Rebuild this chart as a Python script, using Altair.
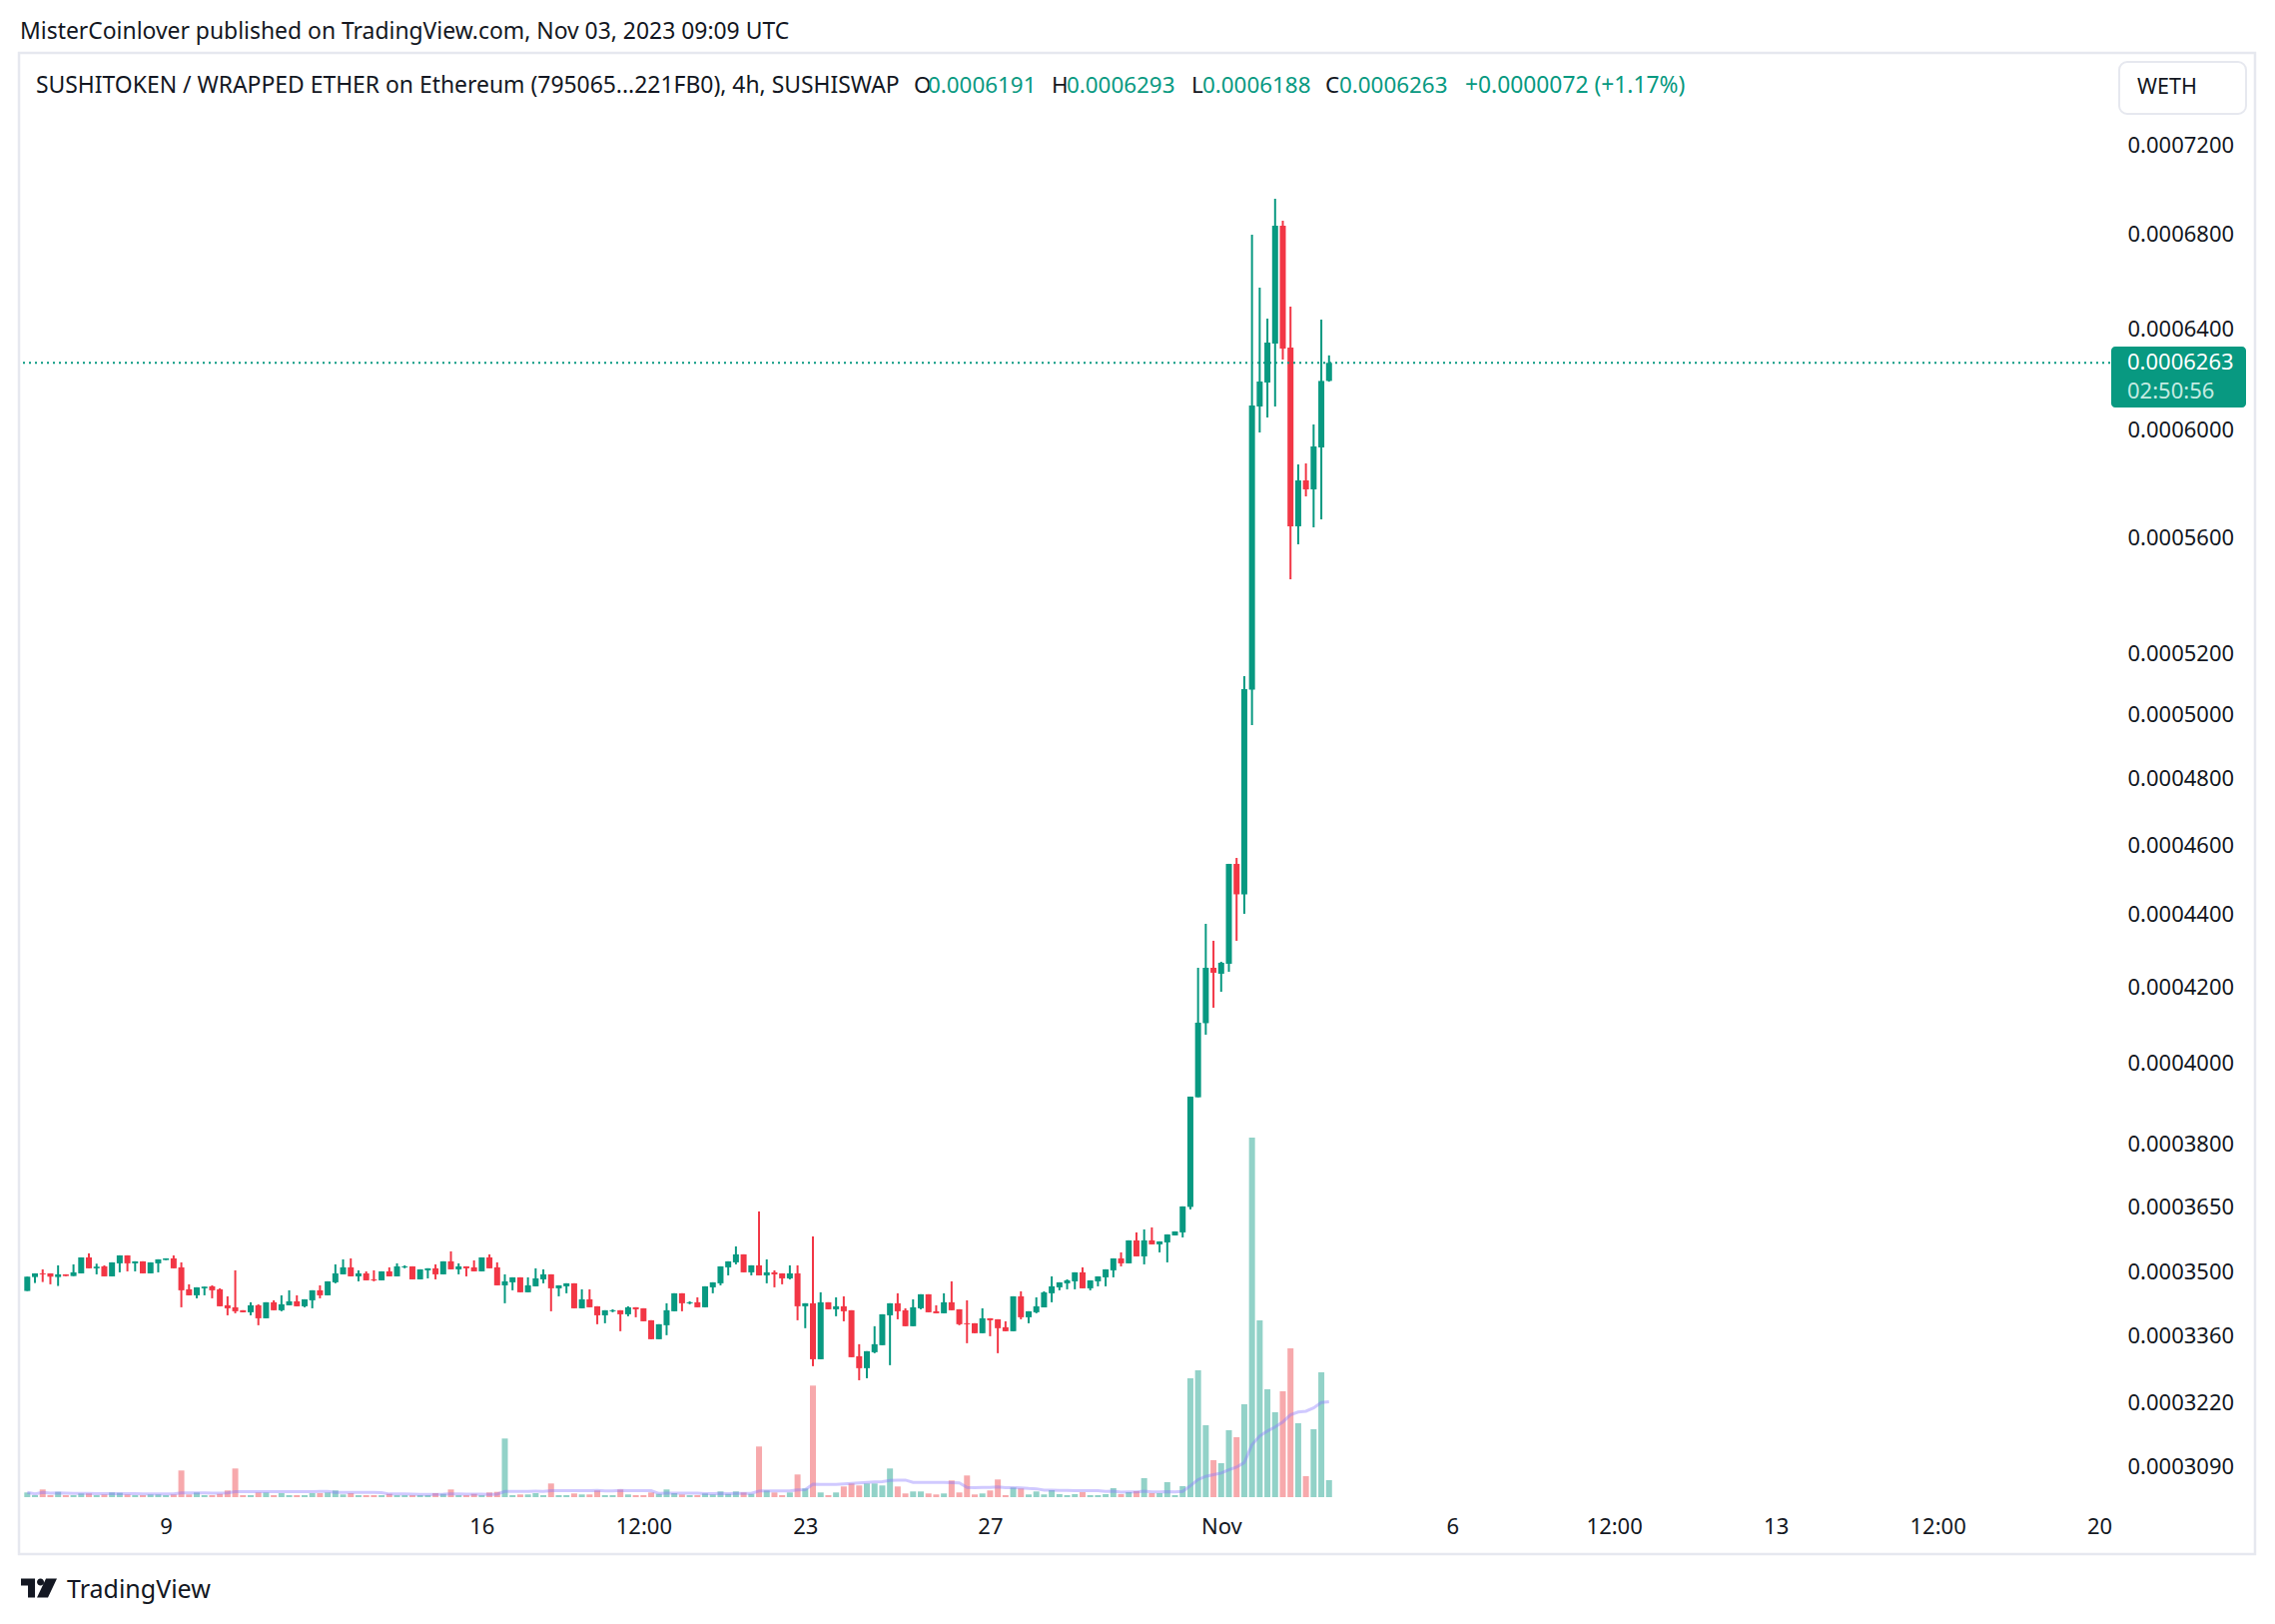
import altair as alt
import pandas as pd

# ---------------- data (prices in units of 1e-4 WETH, 4h bars) ----------------
open_e4 = [
    3.4585, 3.4895, 3.4977, 3.4977, 3.4895, 3.4955, 3.4917, 3.4977, 3.5336, 3.5090,
    3.5134, 3.4910, 3.5202, 3.5382, 3.5202, 3.5247, 3.4977, 3.5202, 3.5277, 3.5314,
    3.5112, 3.4622, 3.4489, 3.4644, 3.4688, 3.4622, 3.4270, 3.4226, 3.4161, 3.4117,
    3.4270, 3.3986, 3.4336, 3.4161, 3.4270, 3.4357, 3.4248, 3.4379, 3.4600, 3.4489,
    3.4777, 3.4955, 3.5112, 3.4910, 3.4977, 3.4843, 3.4821, 3.5022, 3.4910, 3.5112,
    3.5134, 3.4843, 3.5045, 3.5090, 3.4955, 3.5247, 3.5067, 3.5134, 3.5112, 3.5022,
    3.5336, 3.5112, 3.4710, 3.4777, 3.4888, 3.4556, 3.4688, 3.4843, 3.4955, 3.4644,
    3.4688, 3.4755, 3.4204, 3.4401, 3.4248, 3.4051, 3.4139, 3.4161, 3.4073, 3.4226,
    3.4204, 3.3943, 3.3534, 3.3835, 3.4139, 3.4534, 3.4314, 3.4336, 3.4226, 3.4666,
    3.4755, 3.5112, 3.5224, 3.5405, 3.5000, 3.5157, 3.4932, 3.5000, 3.4977, 3.4865,
    3.4977, 3.4248, 3.4314, 3.3107, 3.4336, 3.4182, 3.4248, 3.4161, 3.3171, 3.2918,
    3.3256, 3.3406, 3.4051, 3.4314, 3.4161, 3.3814, 3.4204, 3.4512, 3.4139, 3.4095,
    3.4336, 3.4182, 3.3878, 3.3878, 3.3663, 3.3986, 3.3964, 3.3792, 3.3706, 3.4467,
    3.4008, 3.4117, 3.4226, 3.4534, 3.4666, 3.4755, 3.4799, 3.5000, 3.4644, 3.4799,
    3.4888, 3.5045, 3.5314, 3.5202, 3.5723, 3.5359, 3.5723, 3.5632, 3.5677, 3.5837,
    3.5906, 3.6496, 3.9148, 4.1049, 4.2530, 4.2368, 4.2639, 4.5453, 4.4576, 5.0811,
    6.0905, 6.1846, 6.3407, 6.8372, 6.3245, 5.6411, 5.8093, 5.7760, 5.9331, 6.1910,
]
high_e4 = [
    3.4903, 3.4977, 3.5067, 3.4977, 3.5157, 3.4955, 3.5179, 3.5336, 3.5428, 3.5194,
    3.5157, 3.5224, 3.5382, 3.5382, 3.5247, 3.5247, 3.5224, 3.5292, 3.5314, 3.5382,
    3.5224, 3.4733, 3.4666, 3.4681, 3.4710, 3.4644, 3.4467, 3.5045, 3.4161, 3.4336,
    3.4292, 3.4336, 3.4379, 3.4489, 3.4600, 3.4489, 3.4401, 3.4600, 3.4710, 3.4799,
    3.5179, 3.5292, 3.5314, 3.5045, 3.5022, 3.5045, 3.5022, 3.5112, 3.5202, 3.5157,
    3.5134, 3.5067, 3.5090, 3.5179, 3.5247, 3.5473, 3.5202, 3.5134, 3.5269, 3.5336,
    3.5405, 3.5224, 3.4955, 3.4888, 3.4888, 3.4888, 3.5090, 3.5067, 3.4955, 3.4710,
    3.4755, 3.4755, 3.4622, 3.4622, 3.4248, 3.4161, 3.4182, 3.4161, 3.4248, 3.4226,
    3.4204, 3.3943, 3.3857, 3.4314, 3.4534, 3.4534, 3.4357, 3.4445, 3.4688, 3.4777,
    3.5134, 3.5247, 3.5586, 3.5405, 3.5157, 3.6391, 3.5292, 3.5045, 3.4977, 3.5157,
    3.5157, 3.4314, 3.5814, 3.4556, 3.4336, 3.4445, 3.4467, 3.4161, 3.3427, 3.3278,
    3.3814, 3.4073, 3.4314, 3.4534, 3.4204, 3.4401, 3.4512, 3.4512, 3.4270, 3.4534,
    3.4799, 3.4182, 3.4379, 3.3878, 3.4204, 3.3986, 3.3964, 3.3921, 3.4467, 3.4578,
    3.4139, 3.4445, 3.4578, 3.4910, 3.4777, 3.4843, 3.5000, 3.5112, 3.4821, 3.4910,
    3.5067, 3.5314, 3.5450, 3.5723, 3.5906, 3.5975, 3.6021, 3.5700, 3.5860, 3.5929,
    3.6508, 3.9165, 4.2530, 4.3743, 4.3271, 4.2694, 4.5453, 4.5627, 5.1255, 6.7980,
    6.5717, 6.4428, 6.9562, 6.8591, 6.4924, 5.8690, 5.8728, 6.0210, 6.4387, 6.2930,
]
low_e4 = [
    3.4585, 3.4762, 3.4784, 3.4733, 3.4696, 3.4917, 3.4917, 3.4977, 3.5090, 3.4955,
    3.4910, 3.4910, 3.5000, 3.5022, 3.5022, 3.4977, 3.4977, 3.5000, 3.5277, 3.5090,
    3.4226, 3.4489, 3.4423, 3.4489, 3.4423, 3.4248, 3.4051, 3.4095, 3.4117, 3.4051,
    3.3835, 3.3986, 3.4161, 3.4139, 3.4270, 3.4248, 3.4226, 3.4204, 3.4423, 3.4489,
    3.4755, 3.4955, 3.4910, 3.4799, 3.4821, 3.4799, 3.4821, 3.4910, 3.4910, 3.5090,
    3.4843, 3.4843, 3.4865, 3.4843, 3.4955, 3.5067, 3.4955, 3.4910, 3.5022, 3.5022,
    3.5090, 3.4710, 3.4314, 3.4600, 3.4556, 3.4556, 3.4688, 3.4755, 3.4139, 3.4467,
    3.4534, 3.4204, 3.4204, 3.4226, 3.3857, 3.3878, 3.4117, 3.3706, 3.4030, 3.4008,
    3.3921, 3.3534, 3.3534, 3.3620, 3.4139, 3.4139, 3.4292, 3.4226, 3.4226, 3.4534,
    3.4710, 3.4932, 3.5179, 3.5000, 3.4932, 3.4932, 3.4755, 3.4666, 3.4733, 3.4843,
    3.3943, 3.3771, 3.2960, 3.3107, 3.4182, 3.4030, 3.3921, 3.3150, 3.2665, 3.2707,
    3.3235, 3.3406, 3.2981, 3.3964, 3.3814, 3.3814, 3.4182, 3.4117, 3.4095, 3.4095,
    3.4161, 3.3835, 3.3448, 3.3663, 3.3663, 3.3598, 3.3235, 3.3706, 3.3706, 3.3964,
    3.3878, 3.4095, 3.4226, 3.4336, 3.4600, 3.4622, 3.4622, 3.4644, 3.4600, 3.4688,
    3.4688, 3.4888, 3.5134, 3.5202, 3.5359, 3.5179, 3.5632, 3.5450, 3.5224, 3.5837,
    3.5791, 3.6438, 3.9148, 4.0748, 4.1457, 4.1883, 4.2422, 4.3271, 4.4024, 4.9674,
    5.9902, 6.0478, 6.0905, 6.2762, 5.4532, 5.5765, 5.7502, 5.6374, 5.6663, 6.1880,
]
close_e4 = [
    3.4903, 3.4977, 3.4955, 3.4903, 3.4955, 3.4917, 3.5000, 3.5336, 3.5090, 3.5127,
    3.4910, 3.5224, 3.5382, 3.5202, 3.5247, 3.4977, 3.5224, 3.5292, 3.5314, 3.5090,
    3.4600, 3.4489, 3.4666, 3.4681, 3.4600, 3.4248, 3.4204, 3.4139, 3.4117, 3.4270,
    3.3986, 3.4336, 3.4161, 3.4292, 3.4357, 3.4248, 3.4401, 3.4600, 3.4489, 3.4799,
    3.4977, 3.5112, 3.4910, 3.4977, 3.4821, 3.4821, 3.5022, 3.4910, 3.5134, 3.5134,
    3.4843, 3.5067, 3.5090, 3.4955, 3.5247, 3.5067, 3.5134, 3.5090, 3.5022, 3.5336,
    3.5090, 3.4710, 3.4799, 3.4888, 3.4556, 3.4710, 3.4865, 3.4955, 3.4644, 3.4710,
    3.4755, 3.4204, 3.4401, 3.4226, 3.4051, 3.4161, 3.4161, 3.4073, 3.4226, 3.4182,
    3.3921, 3.3534, 3.3857, 3.4161, 3.4534, 3.4314, 3.4336, 3.4226, 3.4688, 3.4777,
    3.5134, 3.5247, 3.5405, 3.5000, 3.5157, 3.4932, 3.5000, 3.4955, 3.4865, 3.4977,
    3.4248, 3.4314, 3.3107, 3.4336, 3.4182, 3.4248, 3.4139, 3.3150, 3.2918, 3.3278,
    3.3427, 3.4073, 3.4314, 3.4139, 3.3814, 3.4226, 3.4512, 3.4117, 3.4095, 3.4336,
    3.4161, 3.3857, 3.3857, 3.3663, 3.3986, 3.3943, 3.3771, 3.3706, 3.4467, 3.4008,
    3.4139, 3.4248, 3.4556, 3.4688, 3.4777, 3.4821, 3.5000, 3.4644, 3.4821, 3.4910,
    3.5067, 3.5314, 3.5202, 3.5723, 3.5359, 3.5723, 3.5632, 3.5700, 3.5860, 3.5929,
    3.6508, 3.9165, 4.1062, 4.2530, 4.2395, 4.2667, 4.5453, 4.4576, 5.0831, 6.0944,
    6.1886, 6.3447, 6.8372, 6.3205, 5.6411, 5.8093, 5.7760, 5.9369, 6.1910, 6.2630,
]
volume = [
    4.7, 2, 7.7, 2, 5.3, 2, 2, 3.7, 3.7, 2, 2.7, 4.7, 4.3, 2.7, 2, 2, 2.7, 2.7, 2, 2.7,
    26.7, 2.7, 4.7, 2, 2, 3.3, 6.7, 28.7, 2, 2, 4.7, 4.7, 2, 4, 2, 2, 2, 4, 4, 4.7,
    6.7, 2.7, 4, 2, 2, 2, 2, 3.3, 2, 2, 2, 2, 2, 4, 3.3, 7.7, 2, 2, 3.3, 2,
    4.7, 5.3, 58.7, 2, 2.7, 2.7, 4,
    2, 13.7, 2, 2, 3.7, 2.7, 2.7, 6.7, 2, 2, 7.7, 2.7, 2, 2, 4.7, 3.3, 7.7, 4, 2.7, 2,
    2, 3.7, 2.7, 5.7, 3.3, 5.7, 4.7, 3.3, 50.7, 6.7, 4.7, 2, 4.7, 22.7, 8.7, 111.7, 4.7, 2, 4.7, 10.7,
    13.7, 11.7, 13.7, 13.7, 11.7, 28.7, 10.7, 3.7, 5.7, 5.7, 3.7, 2.7, 3.7, 16.7, 4.7, 21.7, 2.7, 3.7, 6.7, 17.7,
    2, 9.7, 8.7, 2.7, 5.7, 2.7,
    7, 3, 2, 3, 5, 2, 2, 3, 9, 3, 5, 6, 19, 4, 4, 15, 2, 11, 119, 127,
    72, 37, 34, 67, 60, 93, 360, 177, 108, 85, 106, 149, 74, 21, 68, 125, 17,
]
tick_bars = [18, 59, 80, 101, 125, 155, 185, 206, 227, 248, 269]
tick_labels = ["9", "16", "12:00", "23", "27", "Nov", "6", "12:00", "13", "12:00", "20"]
price_ticks = [0.00072, 0.00068, 0.00064, 0.0006, 0.00056, 0.00052, 0.0005, 0.00048,
               0.00046, 0.00044, 0.00042, 0.0004, 0.00038, 0.000365, 0.00035,
               0.000336, 0.000322, 0.000309]

title_text = "MisterCoinlover published on TradingView.com, Nov 03, 2023 09:09 UTC"
symbol_text = "SUSHITOKEN / WRAPPED ETHER on Ethereum (795065...221FB0), 4h, SUSHISWAP"
ohlc_keys = ["O", "H", "L", "C"]
ohlc_vals = ["0.0006191", "0.0006293", "0.0006188", "0.0006263"]
change_text = "+0.0000072 (+1.17%)"
countdown_text = "02:50:56"
currency_text = "WETH"

# ---------------- styling ----------------
FONT = "Noto Sans"
TEXT = "#131722"
UP, DOWN = "#089981", "#F23645"
UP_VOL, DOWN_VOL = "#92d2c8", "#f7a9ac"
BORDER = "#e6e8ef"
W, H = 2092, 1453

df = pd.DataFrame({
    "bar": list(range(len(close_e4))),
    "open": [v * 1e-4 for v in open_e4],
    "high": [v * 1e-4 for v in high_e4],
    "low": [v * 1e-4 for v in low_e4],
    "close": [v * 1e-4 for v in close_e4],
    "vol": volume,
})
df["body_lo"] = df[["open", "close"]].min(axis=1)
df["body_hi"] = df[["open", "close"]].max(axis=1)
last_close = df["close"].iloc[-1]

label_expr = "[{}][indexof([{}], datum.value)]".format(
    ",".join("'%s'" % t for t in tick_labels), ",".join(str(b) for b in tick_bars))

x_scale = alt.Scale(domain=[-0.17, 269.77], nice=False, zero=False)
x_axis = alt.Axis(values=tick_bars, labelExpr=label_expr, title=None, grid=False,
                  domain=False, ticks=False, labelPadding=20, labelBaseline="middle",
                  labelFlush=False, labelOverlap=False, labelFont=FONT,
                  labelFontSize=22, labelColor=TEXT)
X = alt.X("bar:Q", scale=x_scale, axis=x_axis)

p_scale = alt.Scale(type="log", domain=[0.00030137, 0.00076268], nice=False)
p_axis = alt.Axis(orient="right", values=price_ticks, format=".7f", title=None,
                  grid=False, domain=False, ticks=False, labelPadding=17,
                  labelAlign="left", labelBaseline="middle", labelOverlap=False,
                  labelFlush=False, labelFont=FONT, labelFontSize=22, labelColor=TEXT)
v_scale = alt.Scale(domain=[-9, 1444], nice=False, zero=False)

is_up = "datum.close >= datum.open"
base = alt.Chart(df)

wicks = base.mark_rule(strokeWidth=2).encode(
    x=X, y=alt.Y("low:Q", scale=p_scale, axis=p_axis), y2="high:Q",
    color=alt.condition(is_up, alt.value(UP), alt.value(DOWN)))
bodies = base.mark_bar(size=6).encode(
    x=X, y=alt.Y("body_lo:Q", scale=p_scale, axis=p_axis), y2="body_hi:Q",
    color=alt.condition(is_up, alt.value(UP), alt.value(DOWN)))

last_df = pd.DataFrame({"p": [last_close]})
last_line = alt.Chart(last_df).mark_rule(color=UP, strokeWidth=2, strokeDash=[2, 4]).encode(
    y=alt.Y("p:Q", scale=p_scale, axis=p_axis))
tag_box = alt.Chart(last_df).mark_rect(x=2093, x2=2228, y=292, y2=353, color=UP,
                                        cornerRadius=4)
tag_text = alt.Chart(last_df).mark_text(x=2109, align="left", baseline="middle", font=FONT,
                                        fontSize=22, color="white").encode(
    y=alt.Y("p:Q", scale=p_scale, axis=p_axis), text=alt.Text("p:Q", format=".7f"))
tag_count = alt.Chart(last_df).mark_text(x=2109, dy=29, align="left", baseline="middle",
                                         font=FONT, fontSize=22, color="#c4ebe2",
                                         text=countdown_text).encode(
    y=alt.Y("p:Q", scale=p_scale, axis=p_axis))

vol_bars = base.mark_bar(size=6).encode(
    x=X, y=alt.Y("vol:Q", scale=v_scale, axis=None), y2=alt.datum(0),
    color=alt.condition(is_up, alt.value(UP_VOL), alt.value(DOWN_VOL)))
vol_ma = base.transform_window(
    vol_ma="mean(vol)", frame=[-19, 0], sort=[alt.SortField("bar")]
).mark_line(color="#8a78ff", strokeWidth=3, opacity=0.4).encode(
    x=X, y=alt.Y("vol_ma:Q", scale=v_scale, axis=None))

one = pd.DataFrame({"k": [0]})


def txt(text, x, y, color=TEXT, size=22.9, **kw):
    return alt.Chart(one).mark_text(text=text, x=x, y=y, color=color, fontSize=size,
                                    font=FONT, align="left", baseline="middle", **kw)


decos = [
    alt.Chart(one).mark_rect(x=-2, x2=2237, y=-2, y2=1501, fillOpacity=0, stroke=BORDER,
                             strokeWidth=2.5),
    txt(title_text, -1, -23),
    txt(symbol_text, 15, 31),
    txt(change_text, 1446, 31, color=UP, size=22.8),
    alt.Chart(one).mark_rect(x=2101, x2=2228, y=7, y2=59, fill="white", stroke=BORDER,
                             strokeWidth=2, cornerRadius=8),
    txt(currency_text, 2119, 33, size=21.5),
    txt("TradingView", 46, 1537, size=25),
    alt.Chart(one).mark_point(
        shape="M-1,-0.53 L-0.22,-0.53 L-0.22,0.53 L-0.61,0.53 L-0.61,-0.14 L-1,-0.14 Z "
              "M-0.11,-0.33 A0.19,0.19 0 1,0 0.28,-0.33 A0.19,0.19 0 1,0 -0.11,-0.33 Z "
              "M0.39,-0.53 L1,-0.53 L0.5,0.53 L-0.11,0.53 Z",
        x=18, y=1535, size=1296, filled=True, color=TEXT, opacity=1),
]
key_x = [894, 1032, 1172, 1306]
val_x = [908, 1047, 1183, 1320]
for k, v, kx, vx in zip(ohlc_keys, ohlc_vals, key_x, val_x):
    decos.append(txt(k, kx, 31, size=22.4))
    decos.append(txt(v, vx, 31, color=UP, size=22.4))

vol_layer = alt.layer(vol_bars, vol_ma)
price_layer = alt.layer(wicks, bodies, last_line, tag_box, tag_text, tag_count)

chart = alt.layer(vol_layer, price_layer, *decos).resolve_scale(y="independent").properties(
    width=W, height=H,
    padding={"left": 21, "top": 55, "right": 165, "bottom": 118},
    autosize=alt.AutoSizeParams(type="none"),
    background="white",
).configure_view(stroke=None)

chart.save("out.html", embed_options={"renderer": "svg", "actions": False})
